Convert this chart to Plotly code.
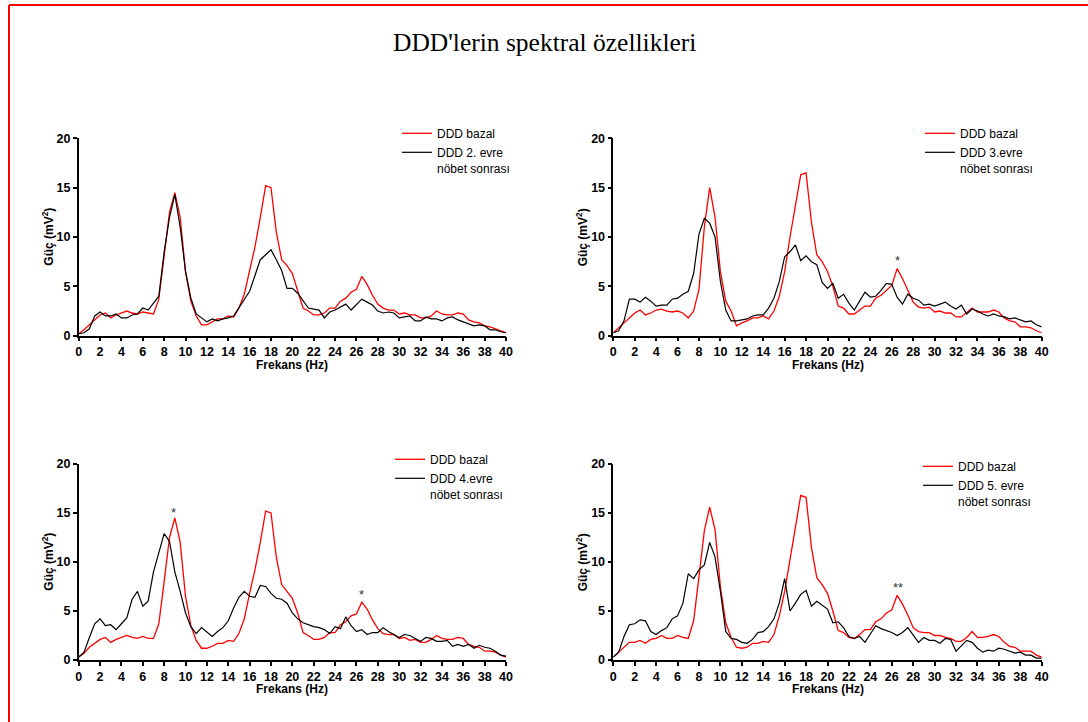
import plotly.graph_objects as go

# ---------------- data ----------------
freq = [0, 0.5, 1, 1.5, 2, 2.5, 3, 3.5, 4, 4.5, 5, 5.5, 6, 6.5, 7, 7.5, 8, 8.5, 9, 9.5,
        10, 10.5, 11, 11.5, 12, 12.5, 13, 13.5, 14, 14.5, 15, 15.5, 16, 16.5, 17, 17.5, 18, 18.5, 19, 19.5,
        20, 20.5, 21, 21.5, 22, 22.5, 23, 23.5, 24, 24.5, 25, 25.5, 26, 26.5, 27, 27.5, 28, 28.5, 29, 29.5,
        30, 30.5, 31, 31.5, 32, 32.5, 33, 33.5, 34, 34.5, 35, 35.5, 36, 36.5, 37, 37.5, 38, 38.5, 39, 39.5, 40]

bazal_1 = [0.2, 0.6, 1.1, 1.6, 2.1, 2.3, 1.8, 2.1, 2.3, 2.5, 2.3, 2.2, 2.4, 2.3, 2.2, 3.7, 8.0, 12.5, 14.5, 12.0,
           6.5, 3.5, 2.0, 1.1, 1.1, 1.4, 1.7, 1.7, 2.0, 1.9, 2.8, 4.2, 6.5, 9.0, 12.0, 15.2, 15.0, 10.5, 7.7, 7.1,
           6.3, 4.6, 2.8, 2.5, 2.1, 2.1, 2.3, 2.8, 2.8, 3.5, 3.8, 4.4, 4.7, 6.0, 5.2, 4.1, 3.2, 2.8, 2.6, 2.6,
           2.2, 2.3, 2.1, 2.1, 1.8, 1.8, 2.0, 2.5, 2.2, 2.1, 2.1, 2.3, 2.2, 1.6, 1.4, 1.3, 1.0, 0.9, 0.7, 0.5, 0.3]
evre_2 = [0.2, 0.3, 0.7, 2.0, 2.4, 2.0, 2.0, 2.2, 1.8, 1.8, 2.1, 2.2, 2.8, 2.6, 3.3, 4.0, 8.5, 12.0, 14.3, 11.0,
          6.5, 3.8, 2.2, 1.8, 1.4, 1.7, 1.5, 1.7, 1.8, 2.0, 2.8, 3.6, 4.5, 6.1, 7.7, 8.2, 8.7, 7.7, 6.6, 4.8,
          4.8, 4.3, 3.6, 2.8, 2.7, 2.6, 1.8, 2.4, 2.6, 2.9, 3.2, 2.6, 3.1, 3.7, 3.4, 3.1, 2.5, 2.3, 2.4, 2.3,
          1.8, 1.9, 2.0, 1.5, 1.5, 1.9, 1.7, 1.7, 1.5, 1.8, 1.9, 1.6, 1.4, 1.2, 1.0, 1.1, 1.0, 0.6, 0.6, 0.4, 0.3]

bazal_2 = [0.3, 0.8, 1.3, 1.9, 2.3, 2.6, 2.1, 2.3, 2.6, 2.7, 2.5, 2.4, 2.5, 2.3, 1.8, 2.5, 4.7, 11.0, 15.0, 12.0,
           6.5, 3.5, 2.5, 1.0, 1.3, 1.5, 1.8, 1.8, 2.0, 1.7, 2.5, 4.0, 6.5, 10.0, 13.0, 16.3, 16.5, 11.5, 8.2, 7.5,
           6.5, 5.0, 3.0, 2.8, 2.2, 2.2, 2.6, 3.0, 3.0, 3.8, 4.1, 4.6, 5.1, 6.8, 5.8, 4.6, 3.4, 2.9, 2.8, 2.9,
           2.4, 2.5, 2.3, 2.3, 1.9, 1.9, 2.4, 2.8, 2.4, 2.4, 2.4, 2.6, 2.4, 1.8, 1.5, 1.4, 0.9, 0.9, 0.8, 0.5, 0.3]
evre_3 = [0.3, 0.5, 1.5, 3.7, 3.7, 3.4, 3.9, 3.5, 3.0, 3.1, 3.1, 3.7, 3.8, 4.2, 4.5, 6.3, 10.3, 11.9, 11.4, 10.0,
          5.5, 2.6, 1.5, 1.5, 1.6, 1.7, 2.0, 2.1, 2.1, 2.8, 3.8, 5.5, 8.0, 8.5, 9.2, 7.6, 8.1, 7.5, 7.2, 5.4,
          4.8, 5.3, 3.8, 4.2, 3.3, 2.6, 3.5, 4.4, 3.9, 4.0, 4.6, 5.3, 5.2, 3.9, 3.2, 4.2, 3.8, 3.6, 3.1, 3.2,
          3.0, 3.2, 3.4, 3.0, 2.7, 3.1, 2.2, 2.7, 2.5, 2.2, 2.0, 2.2, 2.0, 1.9, 1.7, 1.8, 1.6, 1.4, 1.5, 1.1, 0.9]

bazal_3 = [0.3, 0.7, 1.3, 1.7, 2.1, 2.3, 1.8, 2.1, 2.3, 2.5, 2.3, 2.2, 2.4, 2.2, 2.2, 3.7, 8.0, 12.5, 14.5, 12.0,
           6.5, 3.5, 2.0, 1.2, 1.2, 1.4, 1.7, 1.7, 2.0, 1.9, 2.7, 4.2, 6.8, 9.2, 12.0, 15.2, 15.0, 10.5, 7.7, 7.0,
           6.3, 4.8, 2.8, 2.5, 2.1, 2.1, 2.3, 2.8, 2.8, 3.6, 3.9, 4.5, 4.7, 5.9, 5.2, 4.1, 3.2, 2.7, 2.6, 2.6,
           2.2, 2.3, 2.0, 2.1, 1.8, 1.8, 2.1, 2.5, 2.2, 2.1, 2.1, 2.3, 2.2, 1.6, 1.4, 1.3, 0.9, 0.9, 0.8, 0.5, 0.3]
evre_4 = [0.3, 0.8, 2.3, 3.7, 4.2, 3.5, 3.6, 3.1, 3.7, 4.3, 6.2, 7.0, 5.5, 6.0, 9.0, 11.0, 12.9, 12.1, 9.0, 7.0,
          4.8, 3.4, 2.7, 3.3, 2.8, 2.4, 2.9, 3.3, 4.0, 5.3, 6.4, 7.0, 6.5, 6.4, 7.6, 7.5, 6.8, 6.3, 6.2, 5.8,
          4.8, 4.2, 3.8, 3.6, 3.4, 3.3, 3.1, 2.7, 3.4, 3.2, 4.4, 3.5, 2.9, 3.1, 2.6, 2.8, 2.8, 3.3, 2.9, 2.6,
          2.3, 2.6, 2.5, 2.2, 1.9, 2.3, 2.2, 1.9, 1.9, 2.0, 1.4, 1.6, 1.4, 1.6, 1.2, 1.5, 1.3, 1.2, 0.9, 0.5, 0.4]

bazal_4 = [0.3, 0.8, 1.3, 1.8, 1.8, 2.0, 1.7, 2.1, 2.2, 2.5, 2.2, 2.2, 2.5, 2.3, 2.2, 4.0, 8.5, 13.2, 15.6, 13.3,
           7.5, 3.8, 2.3, 1.3, 1.2, 1.3, 1.7, 1.7, 1.9, 1.8, 2.6, 4.5, 7.0, 10.5, 13.5, 16.8, 16.6, 11.5, 8.4, 7.7,
           6.8, 5.0, 3.0, 2.8, 2.3, 2.2, 2.6, 3.1, 3.1, 3.9, 4.2, 4.8, 5.1, 6.6, 5.7, 4.6, 3.3, 2.9, 2.8, 2.8,
           2.5, 2.5, 2.3, 2.2, 1.9, 1.9, 2.3, 2.9, 2.3, 2.3, 2.4, 2.6, 2.4, 1.8, 1.4, 1.3, 0.9, 0.9, 0.9, 0.5, 0.3]
evre_5 = [0.3, 0.8, 2.4, 3.6, 3.7, 4.1, 4.0, 2.9, 2.6, 3.0, 3.3, 4.2, 4.5, 5.8, 8.8, 8.3, 9.2, 9.7, 12.0, 10.5,
          7.0, 2.9, 2.2, 2.1, 1.8, 1.7, 2.1, 2.8, 2.9, 3.4, 4.2, 5.8, 8.3, 5.0, 5.8, 6.7, 7.1, 5.5, 6.0, 5.6,
          5.2, 3.8, 3.9, 3.3, 2.4, 2.2, 2.4, 1.8, 2.6, 3.5, 3.2, 3.0, 2.8, 2.5, 2.8, 3.3, 2.6, 1.8, 2.3, 2.0,
          2.0, 1.7, 2.2, 2.1, 0.9, 1.5, 2.0, 1.8, 1.2, 0.8, 1.0, 0.9, 1.2, 1.1, 0.9, 0.7, 0.8, 0.5, 0.5, 0.2, 0.2]

baseline_name = "DDD bazal"
stage_names = ["DDD 2. evre<br>nöbet sonrası", "DDD 3.evre<br>nöbet sonrası",
               "DDD 4.evre<br>nöbet sonrası", "DDD 5. evre<br>nöbet sonrası"]
baselines = [bazal_1, bazal_2, bazal_3, bazal_4]
stages = [evre_2, evre_3, evre_4, evre_5]

x_ticks = [0, 2, 4, 6, 8, 10, 12, 14, 16, 18, 20, 22, 24, 26, 28, 30, 32, 34, 36, 38, 40]
y_ticks = [0, 5, 10, 15, 20]

# significance marks: (panel index, frequency, power, text)
marks = [(1, 26.5, 7.6, "*"), (2, 8.9, 15.1, "*"), (2, 26.5, 6.7, "*"), (3, 26.6, 7.4, "**")]

title_text = "DDD'lerin spektral özellikleri"
x_title = "Frekans (Hz)"
y_title = "Güç (mV<sup>2</sup>)"

# ---------------- layout helpers ----------------
W, H = 1088, 722
def px(x):
    return x / W
def py(y):
    return 1 - y / H

# axis pixel boxes: (left, right, bottom(y=0), top(y=20))
boxes = [(78.7, 506.0, 335.7, 138.3), (613.3, 1041.7, 335.7, 138.3),
         (78.7, 506.0, 660.0, 464.0), (613.3, 1041.7, 660.0, 464.0)]
legend_pos = [(397, 119), (920, 119), (390, 445), (918, 452)]

fig = go.Figure()
sans = "Liberation Sans, Arial, sans-serif"
tickfont = dict(family=sans, size=12.5, color="black", weight="bold")

annotations = []
for i in range(4):
    sfx = "" if i == 0 else str(i + 1)
    leg = "legend" if i == 0 else "legend" + str(i + 1)
    fig.add_trace(go.Scatter(x=freq, y=baselines[i], mode="lines", name=baseline_name,
                             line=dict(color="#ff0000", width=1.3), xaxis="x" + sfx, yaxis="y" + sfx,
                             legend=leg))
    fig.add_trace(go.Scatter(x=freq, y=stages[i], mode="lines", name=stage_names[i],
                             line=dict(color="#000000", width=1.2), xaxis="x" + sfx, yaxis="y" + sfx,
                             legend=leg))
    l, r, b, t = boxes[i]
    axis_common = dict(showgrid=False, zeroline=False, showline=True, linecolor="black", linewidth=1.5,
                       ticks="outside", ticklen=4, tickwidth=1.5, tickcolor="black", tickfont=tickfont,
                       automargin=False)
    fig.layout["xaxis" + sfx] = dict(domain=[px(l), px(r)], range=[0, 40], tickvals=x_ticks,
                                     anchor="y" + sfx, **axis_common)
    fig.layout["yaxis" + sfx] = dict(domain=[py(b), py(t)], range=[0, 20], tickvals=y_ticks,
                                     anchor="x" + sfx, **axis_common)
    lx, ly = legend_pos[i]
    fig.layout[leg] = dict(x=px(lx), y=py(ly), xanchor="left", yanchor="top",
                           bgcolor="rgba(0,0,0,0)", borderwidth=0, valign="top", itemwidth=30,
                           font=dict(family=sans, size=12, color="black"), tracegroupgap=0)
    # axis titles
    annotations.append(dict(text=x_title, x=px((l + r) / 2), y=py(b + 29), xref="paper", yref="paper",
                            showarrow=False, xanchor="center", yanchor="middle",
                            font=dict(family=sans, size=12, color="black", weight="bold")))
    annotations.append(dict(text=y_title, x=px(l - 31), y=py((b + t) / 2), xref="paper", yref="paper",
                            showarrow=False, xanchor="center", yanchor="middle", textangle=-90,
                            font=dict(family=sans, size=12, color="black", weight="bold")))

for (i, fx, fy, txt) in marks:
    sfx = "" if i == 0 else str(i + 1)
    annotations.append(dict(text=txt, x=fx, y=fy, xref="x" + sfx, yref="y" + sfx, showarrow=False,
                            xanchor="center", yanchor="middle",
                            font=dict(family=sans, size=13, color="#333333")))

annotations.append(dict(text=title_text, x=px(544), y=py(42), xref="paper", yref="paper", showarrow=False,
                        xanchor="center", yanchor="middle",
                        font=dict(family="Liberation Serif, Times New Roman, serif", size=25.5, color="black")))

shapes = [
    dict(type="line", xref="paper", yref="paper", x0=px(9), x1=1.0, y0=py(5), y1=py(5),
         line=dict(color="#ff0000", width=2)),
    dict(type="line", xref="paper", yref="paper", x0=px(9), x1=px(9), y0=py(5), y1=0,
         line=dict(color="#ff0000", width=2)),
]

fig.update_layout(width=W, height=H, margin=dict(l=0, r=0, t=0, b=0), paper_bgcolor="white",
                  plot_bgcolor="white", annotations=annotations, shapes=shapes, showlegend=True)

fig.write_html("out.html")
